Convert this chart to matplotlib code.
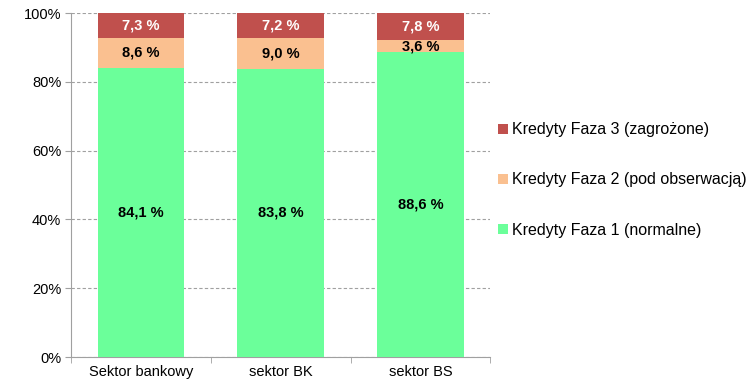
import matplotlib
import matplotlib.pyplot as plt
import numpy as np

matplotlib.use("Agg")
plt.rcParams["font.family"] = ["Liberation Sans", "DejaVu Sans"]

categories = ["Sektor bankowy", "sektor BK", "sektor BS"]
faza1 = [84.1, 83.8, 88.6]
faza2 = [8.6, 9.0, 3.6]
faza3 = [7.3, 7.2, 7.8]
series_labels = [
    "Kredyty Faza 1 (normalne)",
    "Kredyty Faza 2 (pod obserwacją)",
    "Kredyty Faza 3 (zagrożone)",
]
colors = ["#6BFF9A", "#FAC090", "#C0504D"]
text_colors = ["black", "black", "white"]


def fmt(v: float) -> str:
    return f"{v:.1f} %".replace(".", ",")


fig = plt.figure(figsize=(7.53, 3.86), dpi=100)
ax = fig.add_axes([0.0943, 0.0751, 0.557, 0.891])

x = np.arange(len(categories))
bottom = np.zeros(len(categories))
handles = []
for values, color, tcolor, label in zip([faza1, faza2, faza3], colors, text_colors, series_labels):
    vals = np.array(values)
    bars = ax.bar(x, vals, bottom=bottom, width=0.62, color=color, label=label, zorder=3)
    handles.append(bars)
    for xi, b, v in zip(x, bottom, vals):
        ax.text(xi, b + v / 2, fmt(v), ha="center", va="center", fontsize=10.5,
                fontweight="bold", color=tcolor, zorder=4)
    bottom += vals

ax.set_xlim(-0.5, len(categories) - 0.5)
ax.set_ylim(0, 100)
ax.set_yticks(np.arange(0, 101, 20))
ax.set_yticklabels([f"{v}%" for v in range(0, 101, 20)], fontsize=10.5)
ax.set_xticks(x)
ax.set_xticklabels(categories, fontsize=10.5)
ax.tick_params(axis="x", length=0, pad=6)
ax.set_xticks(np.arange(-0.5, len(categories)), minor=True)
ax.tick_params(axis="x", which="minor", length=4, color="#A0A0A0")
ax.tick_params(axis="y", length=4, color="#A0A0A0", pad=3)

ax.yaxis.grid(True, linestyle=(0, (3, 2)), color="#A0A0A0", linewidth=0.8, zorder=0)
ax.set_axisbelow(True)
for side in ["top", "right"]:
    ax.spines[side].set_visible(False)
for side in ["left", "bottom"]:
    ax.spines[side].set_color("#A0A0A0")

ax.legend(handles[::-1], series_labels[::-1], loc="center left",
          bbox_to_anchor=(1.0, 0.515), frameon=False, fontsize=11.5,
          labelspacing=2.2, handlelength=0.6, handleheight=0.6, handletextpad=0.25,
          borderaxespad=0.1)

fig.savefig("out.png", dpi=100)
